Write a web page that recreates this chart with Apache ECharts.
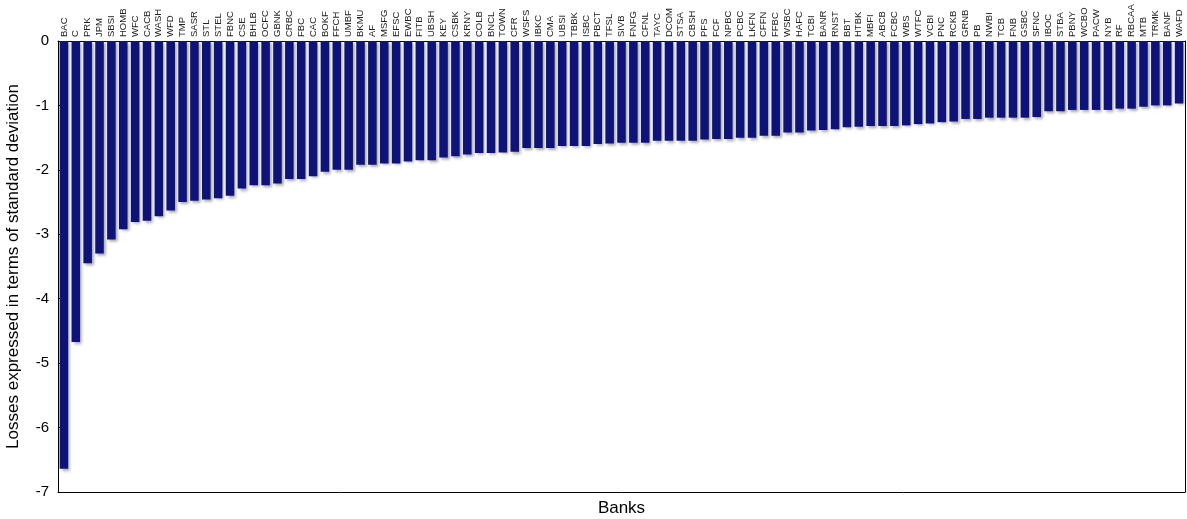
<!DOCTYPE html>
<html>
<head>
<meta charset="utf-8">
<script src="https://cdn.jsdelivr.net/npm/echarts@6/dist/echarts.min.js"></script>
<style>
html,body{margin:0;padding:0;background:#fff;}
#chart{width:1187px;height:519px;}
</style>
</head>
<body>
<div id="chart"></div>
<script>
const banks = ["BAC","C","PRK","JPM","SBSI","HOMB","WFC","CACB","WASH","WFD","TMP","SASR","STL","STEL","FBNC","CSE","BHLB","OCFC","GBNK","CRBC","FBC","CAC","BOKF","FFCH","UMBF","BKMU","AF","MSFG","EFSC","EWBC","FITB","UBSH","KEY","CSBK","KRNY","COLB","BNCL","TOWN","CFR","WSFS","IBKC","CMA","UBSI","TBBK","ISBC","PBCT","TFSL","SIVB","FNFG","CFNL","TAYC","DCOM","STSA","CBSH","PFS","FCF","NPBC","PCBC","LKFN","CFFN","FFBC","WSBC","HAFC","TCBI","BANR","RNST","BBT","HTBK","MBFI","ABCB","FCBC","WBS","WTFC","VCBI","PNC","RCKB","GRNB","PB","NWBI","TCB","FNB","GSBC","SFNC","IBOC","STBA","PBNY","WCBO","PACW","NYB","RF","RBCAA","MTB","TRMK","BANF","WAFD"];
const losses = [-6.64,-4.67,-3.45,-3.30,-3.08,-2.92,-2.81,-2.79,-2.72,-2.63,-2.50,-2.48,-2.46,-2.44,-2.40,-2.29,-2.24,-2.24,-2.21,-2.14,-2.14,-2.10,-2.03,-2.00,-2.00,-1.92,-1.92,-1.90,-1.90,-1.87,-1.85,-1.85,-1.81,-1.79,-1.76,-1.74,-1.74,-1.73,-1.72,-1.66,-1.66,-1.66,-1.63,-1.63,-1.63,-1.60,-1.59,-1.58,-1.58,-1.58,-1.55,-1.55,-1.55,-1.55,-1.53,-1.52,-1.52,-1.50,-1.50,-1.47,-1.47,-1.42,-1.42,-1.39,-1.38,-1.37,-1.34,-1.33,-1.32,-1.32,-1.32,-1.31,-1.29,-1.28,-1.26,-1.25,-1.21,-1.21,-1.19,-1.19,-1.19,-1.19,-1.18,-1.09,-1.09,-1.07,-1.07,-1.07,-1.07,-1.05,-1.05,-1.02,-1.00,-1.00,-0.97];
const yTicks = {min: -7, max: 0, interval: 1};

const FONT = "'Liberation Sans', Arial, Helvetica, sans-serif";
const chart = echarts.init(document.getElementById('chart'), null, {renderer: 'canvas'});
chart.setOption({
  animation: false,
  backgroundColor: '#ffffff',
  grid: {left: 58, right: 2, top: 41, bottom: 27, containLabel: false, outerBoundsMode: 'none'},
  xAxis: [
    {
      type: 'category', data: banks, position: 'top', boundaryGap: true,
      axisLine: {show: true, lineStyle: {color: '#000', width: 1}},
      axisTick: {show: false},
      axisLabel: {rotate: 90, fontSize: 9.5, color: '#222', fontFamily: FONT, margin: 4, interval: 0},
      splitLine: {show: false}
    },
    {
      type: 'category', data: banks, position: 'bottom', boundaryGap: true,
      axisLine: {show: true, onZero: false, lineStyle: {color: '#000', width: 1}},
      axisTick: {show: false}, axisLabel: {show: false},
      name: 'Banks', nameLocation: 'middle', nameGap: 8,
      nameTextStyle: {fontSize: 17, color: '#000', fontFamily: FONT, verticalAlign: 'top'}
    }
  ],
  yAxis: [
    {
      type: 'value', min: yTicks.min, max: yTicks.max, interval: yTicks.interval,
      axisLine: {show: true, onZero: false, lineStyle: {color: '#000', width: 1}},
      axisTick: {show: true, inside: true, length: 4, lineStyle: {color: '#000'}},
      axisLabel: {fontSize: 15, color: '#000', fontFamily: FONT, margin: 9},
      splitLine: {show: false},
      name: 'Losses expressed in terms of standard deviation', nameLocation: 'middle', nameGap: 36,
      nameTextStyle: {fontSize: 17, color: '#000', fontFamily: FONT}
    },
    {
      type: 'value', position: 'right', min: yTicks.min, max: yTicks.max, interval: yTicks.interval,
      axisLine: {show: true, onZero: false, lineStyle: {color: '#000', width: 1}},
      axisTick: {show: false}, axisLabel: {show: false}, splitLine: {show: false}
    }
  ],
  series: [{
    type: 'bar', data: losses, xAxisIndex: 0, yAxisIndex: 0,
    barWidth: '72%',
    itemStyle: {
      color: '#0e1378',
      shadowColor: 'rgba(0,0,0,0.35)', shadowBlur: 3, shadowOffsetX: 2, shadowOffsetY: 2
    }
  }]
});
</script>
</body>
</html>
